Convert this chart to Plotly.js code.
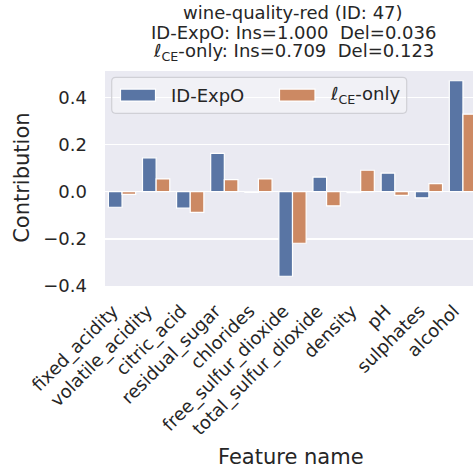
<!DOCTYPE html>
<html>
<head>
<meta charset="utf-8">
<script src="https://cdn.plot.ly/plotly-3.0.1.min.js"></script>
<style>
  html, body { margin: 0; padding: 0; overflow: hidden; background: #ffffff; }
  #chart { width: 480px; height: 469px; }
</style>
</head>
<body>
<div id="chart"></div>
<script>
// Per-feature contributions for one wine-quality-red instance (ID 47)
const features = ['fixed_acidity', 'volatile_acidity', 'citric_acid', 'residual_sugar',
  'chlorides', 'free_sulfur_dioxide', 'total_sulfur_dioxide', 'density', 'pH',
  'sulphates', 'alcohol'];
const idExpoValues = [-0.066, 0.144, -0.070, 0.163, -0.003, -0.359, 0.062, -0.004, 0.079, -0.026, 0.471];
const ceOnlyValues = [-0.011, 0.054, -0.088, 0.051, 0.054, -0.219, -0.060, 0.091, -0.016, 0.034, 0.329];
const seriesNames = ['ID-ExpO', '<i>ℓ</i><sub>CE</sub>-only'];
const titleLines = [
  'wine-quality-red (ID: 47)',
  'ID-ExpO: Ins=1.000  Del=0.036',
  '<i>ℓ</i><sub>CE</sub>-only: Ins=0.709  Del=0.123'
];
const yTicks = [-0.4, -0.2, 0.0, 0.2, 0.4];

const BLUE = '#5975a4';
const ORANGE = '#cc8963';
const TEXT = '#262626';
const FONT = 'DejaVu Sans, Verdana, sans-serif';

// y-limits padded by 5% of the data span on each side
const allVals = idExpoValues.concat(ceOnlyValues);
const vMin = Math.min(...allVals), vMax = Math.max(...allVals);
const pad = 0.05 * (vMax - vMin);
const yRange = [vMin - pad, vMax + pad];

const traces = [
  { type: 'bar', name: seriesNames[0], x: features, y: idExpoValues,
    marker: { color: BLUE, line: { color: '#ffffff', width: 1.2 } }, showlegend: false },
  { type: 'bar', name: seriesNames[1], x: features, y: ceOnlyValues,
    marker: { color: ORANGE, line: { color: '#ffffff', width: 1.2 } }, showlegend: false }
];

// pixel helpers for the plot box (105..480 x, 71..285.7 y)
const L = 105, R = 480, T = 71, B = 285.7;
const px = v => (v - L) / (R - L);
const py = v => (B - v) / (B - T);

function roundedRect(x0, y0, x1, y1, r) {
  const rx = r / (R - L), ry = r / (B - T);
  const X0 = px(x0), X1 = px(x1), Y0 = py(y1), Y1 = py(y0);
  return `M${X0 + rx},${Y0} L${X1 - rx},${Y0} Q${X1},${Y0} ${X1},${Y0 + ry} ` +
         `L${X1},${Y1 - ry} Q${X1},${Y1} ${X1 - rx},${Y1} L${X0 + rx},${Y1} ` +
         `Q${X0},${Y1} ${X0},${Y1 - ry} L${X0},${Y0 + ry} Q${X0},${Y0} ${X0 + rx},${Y0} Z`;
}

const shapes = [
  // legend frame
  { type: 'path', xref: 'paper', yref: 'paper', path: roundedRect(111.7, 77.3, 406.7, 113.3, 4),
    fillcolor: 'rgba(255,255,255,0.35)', line: { color: '#d0d0d6', width: 1.2 } },
  // legend patches
  { type: 'rect', xref: 'paper', yref: 'paper', x0: px(120.5), x1: px(155.5), y0: py(101), y1: py(89),
    fillcolor: BLUE, line: { color: '#ffffff', width: 1.2 } },
  { type: 'rect', xref: 'paper', yref: 'paper', x0: px(279.5), x1: px(315), y0: py(101), y1: py(89),
    fillcolor: ORANGE, line: { color: '#ffffff', width: 1.2 } }
];

const annotations = [];
const titleY = [12.5, 32.5, 52];
titleLines.forEach((t, i) => annotations.push({
  text: t, xref: 'paper', yref: 'paper', x: px(293), y: py(titleY[i]),
  xanchor: 'center', yanchor: 'middle', showarrow: false,
  font: { family: FONT, size: 18, color: TEXT }
}));
annotations.push({ text: seriesNames[0], xref: 'paper', yref: 'paper', x: px(169), y: py(95),
  xanchor: 'left', yanchor: 'middle', showarrow: false, font: { family: FONT, size: 18, color: TEXT } });
annotations.push({ text: seriesNames[1], xref: 'paper', yref: 'paper', x: px(328), y: py(95),
  xanchor: 'left', yanchor: 'middle', showarrow: false, font: { family: FONT, size: 18, color: TEXT } });
// axis titles
annotations.push({ text: 'Feature name', xref: 'paper', yref: 'paper', x: px(291), y: py(456),
  xanchor: 'center', yanchor: 'middle', showarrow: false, font: { family: FONT, size: 21, color: TEXT } });
annotations.push({ text: 'Contribution', xref: 'paper', yref: 'paper', x: px(21.7), y: py(178),
  xanchor: 'center', yanchor: 'middle', textangle: -90, showarrow: false,
  font: { family: FONT, size: 21, color: TEXT } });

const layout = {
  width: 480, height: 469,
  margin: { l: L, r: 0, t: T, b: 469 - B, pad: 0 },
  paper_bgcolor: '#ffffff',
  plot_bgcolor: '#eaeaf2',
  barmode: 'group', bargap: 0.2, bargroupgap: 0,
  font: { family: FONT, size: 18, color: TEXT },
  showlegend: false,
  xaxis: {
    type: 'category', range: [-0.5, features.length - 0.5],
    showgrid: false, zeroline: false, showline: false, ticks: '',
    tickangle: -45, ticklabelshift: -9, ticklabelstandoff: 10,
    tickfont: { family: FONT, size: 18, color: TEXT },
    automargin: false
  },
  yaxis: {
    range: yRange, tickvals: yTicks, tickformat: '.1f',
    showgrid: true, gridcolor: '#ffffff', gridwidth: 1.5,
    zeroline: false, showline: false, ticks: '', ticklabelstandoff: 17,
    tickfont: { family: FONT, size: 18, color: TEXT },
    automargin: false
  },
  shapes: shapes,
  annotations: annotations
};

Plotly.newPlot('chart', traces, layout, { displayModeBar: false, staticPlot: true });
</script>
</body>
</html>
